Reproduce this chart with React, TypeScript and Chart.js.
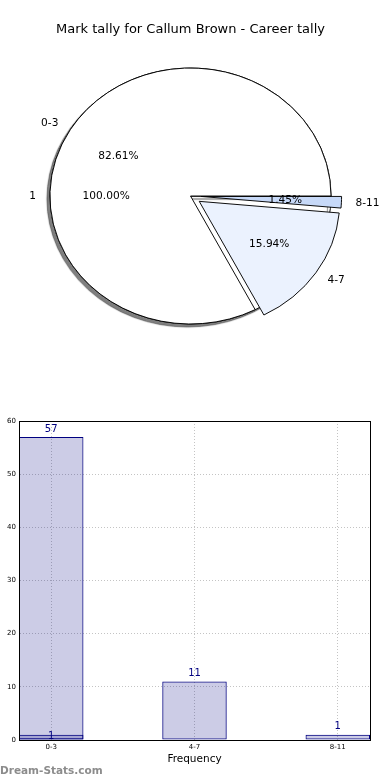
import React, { useEffect, useRef } from "react";
import { Chart, registerables } from "chart.js";

Chart.register(...registerables);

// ---- data ----
const TITLE = "Mark tally for Callum Brown - Career tally";
const categories = ["0-3", "4-7", "8-11"];
const tallyValues = [57, 11, 1];
const explodeFractions = [0, 0.075, 0.075];
const sliceColors = ["#ffffff", "#ebf2fe", "#c7d9f8"];
const secondLabels = ["1"];
const secondValues = [1];
const yTickStep = 10;
const yMax = 60;
const xAxisTitle = "Frequency";
const watermark = "Dream-Stats.com";

const FONT = "'DejaVu Sans', sans-serif";
const RADIUS = 128;
const STRETCH = 1.098;

function pct(v: number, total: number) {
  return ((v / total) * 100).toFixed(2) + "%";
}

function drawPieLabels(chart: any, labels: string[], values: number[]) {
  const ctx = chart.ctx;
  const a = chart.chartArea;
  const cx = (a.left + a.right) / 2;
  const meta = chart.getDatasetMeta(0);
  const total = values.reduce((s, v) => s + v, 0);
  ctx.save();
  ctx.fillStyle = "#000";
  ctx.font = `10.6px ${FONT}`;
  ctx.textBaseline = "middle";
  meta.data.forEach((el: any, i: number) => {
    const mid = (el.startAngle + el.endAngle) / 2;
    const r = el.outerRadius;
    const lx = cx + (el.x - cx + 1.1 * r * Math.cos(mid)) * STRETCH;
    const ly = el.y + 1.1 * r * Math.sin(mid);
    ctx.textAlign = Math.cos(mid) > 0 ? "left" : "right";
    ctx.fillText(labels[i], lx, ly);
    const px = cx + (el.x - cx + 0.6 * r * Math.cos(mid)) * STRETCH;
    const py = el.y + 0.6 * r * Math.sin(mid);
    ctx.textAlign = "center";
    ctx.fillText(pct(values[i], total), px, py);
  });
  ctx.restore();
}

// plugin: explode slices, stretch pie into an ellipse, draw labels (own + those of charts underneath)
function makePiePlugin(
  labels: string[],
  values: number[],
  explode: number[],
  shadow: boolean,
  under: { chart: any; labels: string[]; values: number[] }[]
) {
  return {
    id: "ellipsePie",
    afterDatasetUpdate(chart: any, args: any) {
      const meta = args.meta;
      meta.data.forEach((el: any, i: number) => {
        const e = explode[i] || 0;
        if (!e) return;
        const mid = (el.startAngle + el.endAngle) / 2;
        el.x = el.x + e * el.outerRadius * Math.cos(mid);
        el.y = el.y + e * el.outerRadius * Math.sin(mid);
      });
    },
    beforeDatasetsDraw(chart: any) {
      const ctx = chart.ctx;
      const a = chart.chartArea;
      const cx = (a.left + a.right) / 2;
      const cy = (a.top + a.bottom) / 2;
      ctx.save();
      if (shadow) {
        ctx.shadowColor = "rgba(0,0,0,0.5)";
        ctx.shadowOffsetX = -3;
        ctx.shadowOffsetY = 3;
        ctx.shadowBlur = 1;
      }
      ctx.translate(cx, cy);
      ctx.scale(STRETCH, 1);
      ctx.translate(-cx, -cy);
    },
    afterDatasetsDraw(chart: any) {
      chart.ctx.restore();
      if (labels.length === 0) return;
      under.forEach((u) => {
        if (u.chart) {
          // same geometry on both canvases: draw the lower pie's labels here so text stays on top
          const meta = u.chart.getDatasetMeta(0);
          const fake = { ctx: chart.ctx, chartArea: u.chart.chartArea, getDatasetMeta: () => meta };
          drawPieLabels(fake, u.labels, u.values);
        }
      });
      drawPieLabels(chart, labels, values);
    },
  };
}

function pieConfig(
  labels: string[],
  values: number[],
  colors: string[],
  explode: number[],
  shadow: boolean,
  showTitle: boolean,
  drawLabels: boolean,
  under: { chart: any; labels: string[]; values: number[] }[]
): any {
  // matplotlib draws counter-clockwise from 3 o'clock; chart.js clockwise -> reverse order
  const rl = [...labels].reverse();
  const rv = [...values].reverse();
  const rc = [...colors].reverse();
  const re = [...explode].reverse();
  return {
    type: "pie",
    data: {
      labels: rl,
      datasets: [
        {
          data: rv,
          backgroundColor: rc,
          borderColor: "#000",
          borderWidth: 0.9,
          borderJoinStyle: "miter",
        },
      ],
    },
    options: {
      responsive: false,
      animation: false,
      rotation: 90,
      radius: RADIUS,
      layout: { padding: { top: showTitle ? 0 : 37.6, bottom: 37.6, left: 0, right: 9 } },
      plugins: {
        legend: { display: false },
        tooltip: { enabled: false },
        title: {
          display: showTitle,
          text: TITLE,
          color: "#000",
          font: { family: FONT, size: 13, weight: "normal", lineHeight: 1.2 },
          padding: { top: 22, bottom: 0 },
        },
      },
    },
    plugins: [makePiePlugin(drawLabels ? rl : [], rv, re, shadow, under)],
  };
}

const barValuePlugin = {
  id: "barValues",
  afterDatasetsDraw(chart: any) {
    const ctx = chart.ctx;
    ctx.save();
    ctx.fillStyle = "#000080";
    ctx.font = `10px ${FONT}`;
    ctx.textAlign = "center";
    ctx.textBaseline = "bottom";
    const yBase = chart.scales.y.getPixelForValue(0);
    chart.data.datasets.forEach((ds: any, di: number) => {
      const meta = chart.getDatasetMeta(di);
      meta.data.forEach((el: any, i: number) => {
        const v = ds.data[i].y;
        const y = di === 0 ? el.y - 3 : yBase + 1;
        ctx.fillText(String(v), el.x, y);
      });
    });
    ctx.restore();
    // frame around plot area
    const a = chart.chartArea;
    ctx.save();
    ctx.strokeStyle = "#000";
    ctx.lineWidth = 1;
    ctx.strokeRect(Math.round(a.left) + 0.5, Math.round(a.top) + 0.5, Math.round(a.right - a.left), Math.round(a.bottom - a.top));
    ctx.restore();
  },
};

function barConfig(): any {
  const common = {
    backgroundColor: "rgba(0,0,128,0.2)",
    borderColor: "#000080",
    borderWidth: 1,
    borderSkipped: false,
    grouped: false,
    barPercentage: 0.45,
    categoryPercentage: 1,
  };
  return {
    type: "bar",
    data: {
      datasets: [
        { label: "tally", data: tallyValues.map((v, i) => ({ x: i, y: v })), ...common },
        { label: secondLabels[0], data: secondValues.map((v, i) => ({ x: i, y: v })), ...common },
      ],
    },
    options: {
      responsive: false,
      animation: false,
      layout: { padding: { top: 29, right: 20, left: 0, bottom: 14 } },
      plugins: { legend: { display: false }, tooltip: { enabled: false } },
      scales: {
        x: {
          type: "linear",
          min: -0.225,
          max: 2.225,
          offset: false,
          afterFit: (s: any) => {
            s.height = 26;
          },
          afterBuildTicks: (s: any) => {
            s.ticks = categories.map((_, i) => ({ value: i }));
          },
          ticks: {
            stepSize: 1,
            includeBounds: false,
            autoSkip: false,
            maxRotation: 0,
            padding: 3,
            color: "#000",
            font: { family: FONT, size: 7 },
            callback: (v: any) => categories[Number(v)] ?? "",
          },
          grid: { color: "#c4c4c4", lineWidth: 1, drawTicks: false, offset: false },
          border: { display: true, color: "#000", dash: [1, 2] },
          title: {
            display: true,
            text: xAxisTitle,
            color: "#000",
            font: { family: FONT, size: 10.5 },
            padding: { top: 0, bottom: 0 },
          },
        },
        y: {
          min: 0,
          max: yMax,
          afterFit: (s: any) => {
            s.width = 19;
          },
          ticks: {
            stepSize: yTickStep,
            padding: 3,
            color: "#000",
            font: { family: FONT, size: 7 },
          },
          grid: { color: "#c4c4c4", lineWidth: 1, drawTicks: false },
          border: { display: true, color: "#000", dash: [1, 2] },
        },
      },
    },
    plugins: [barValuePlugin],
  };
}

export default function App() {
  const pieBackRef = useRef<HTMLCanvasElement>(null);
  const pieFrontRef = useRef<HTMLCanvasElement>(null);
  const barRef = useRef<HTMLCanvasElement>(null);

  useEffect(() => {
    const charts: Chart[] = [];
    let back: any = null;
    if (pieBackRef.current) {
      back = new Chart(
        pieBackRef.current,
        pieConfig(secondLabels, secondValues, ["#ffffff"], [0], true, false, false, [])
      );
      charts.push(back);
    }
    if (pieFrontRef.current) {
      charts.push(
        new Chart(
          pieFrontRef.current,
          pieConfig(categories, tallyValues, sliceColors, explodeFractions, false, true, true, [
            { chart: back, labels: secondLabels, values: secondValues },
          ])
        )
      );
    }
    if (barRef.current) {
      charts.push(new Chart(barRef.current, barConfig()));
    }
    return () => charts.forEach((c) => c.destroy());
  }, []);

  return (
    <div style={{ position: "absolute", left: 0, top: 0, width: 390, height: 780, background: "#fff", overflow: "hidden" }}>
      <canvas ref={pieBackRef} width={390} height={392} style={{ position: "absolute", left: 0, top: 0 }} />
      <canvas ref={pieFrontRef} width={390} height={392} style={{ position: "absolute", left: 0, top: 0 }} />
      <canvas ref={barRef} width={390} height={388} style={{ position: "absolute", left: 0, top: 392 }} />
      <div
        style={{
          position: "absolute",
          left: 0,
          top: 763,
          fontFamily: FONT,
          fontSize: 10.5,
          fontWeight: "bold",
          color: "#8c8c8c",
          lineHeight: "14px",
          whiteSpace: "nowrap",
        }}
      >
        {watermark}
      </div>
    </div>
  );
}
